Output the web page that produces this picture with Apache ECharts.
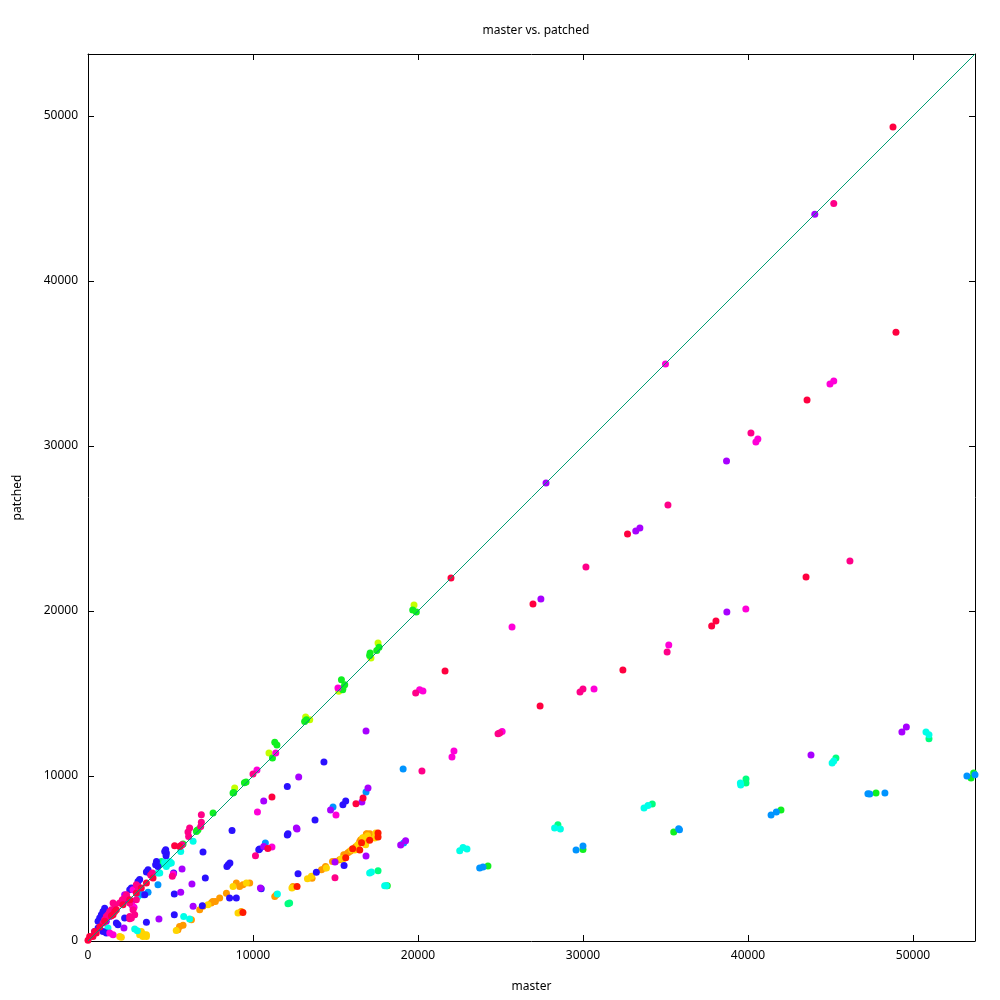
<!DOCTYPE html>
<html>
<head>
<meta charset="utf-8">
<script src="https://cdn.jsdelivr.net/npm/echarts@6/dist/echarts.min.js"></script>
<style>html,body{margin:0;padding:0;background:#fff}#c{width:1000px;height:1000px}</style>
</head>
<body>
<div id="c"></div>
<script>
const axisMax = 53760;
const tickValues = [0, 10000, 20000, 30000, 40000, 50000];
const diagonal = [[0, 0], [53760, 53760]];

const crimson = [[48790,49330],[48970,36900],[43580,32790],[32700,24670],[43520,22060],[22000,22000],[26970,20420],[21640,16360],[32420,16420],[27400,14240],[37800,19090],[38060,19390],[11150,8730],[16670,8670],[16240,8320],[10900,5600],[5250,5770],[5560,5730],[1520,1590],[1620,1790],[1720,1900],[0,40],[300,280],[500,480],[100,280],[400,580],[710,850],[1010,1190],[1420,1530],[2120,2200],[2530,2500],[2930,2910],[3230,3210],[3540,3510],[3940,3820]];
const pink = [[45200,44700],[40180,30790],[35150,26420],[30180,22670],[46180,23030],[35100,17520],[29820,15090],[30000,15270],[19860,15030],[20240,10300],[24850,12560],[24950,12610],[10000,10120],[10150,5170],[6870,7650],[6870,7190],[6830,6940],[6060,6600],[6100,6340],[6160,6850],[5700,5840],[5620,5770],[14970,3840],[2530,1490],[2830,1590],[2630,1390],[2930,2500],[2530,2300],[2730,1900],[2530,1350],[3900,4120],[3800,4000],[5110,3920],[2930,3410],[3030,3310],[2330,2810],[2220,2600],[2080,2500],[1920,2300],[1320,1790],[1420,1900],[1210,1590],[1110,1490],[1010,1290],[910,1090],[1520,2300],[1620,2200]];
const magenta = [[35000,34970],[45200,33940],[44970,33760],[40600,30420],[40480,30240],[25700,19030],[35200,17940],[30670,15270],[39870,20120],[15150,15330],[20100,15230],[20300,15150],[22180,11520],[22060,11150],[11380,11390],[25100,12700],[10240,10360],[10270,7820],[15030,7640],[11150,5700],[2790,2040],[2670,2160],[2730,3110],[5170,4060],[1520,380],[1320,480]];
const violet = [[44050,44050],[38700,29090],[27760,27760],[33200,24850],[33450,25030],[27450,20730],[38720,19940],[49600,12970],[49330,12670],[43820,11270],[16850,12730],[12770,9940],[10650,8480],[16970,9270],[16600,8420],[14700,7940],[12630,6850],[12670,6790],[10650,5730],[14970,4790],[16850,5150],[18950,5820],[19250,6080],[5700,4360],[6300,3450],[5620,2950],[4300,1330],[2180,790],[2220,2810],[2330,2700],[10450,3210],[1320,1490],[1110,1190],[6370,2100]];
const blue = [[14300,10850],[12080,9370],[15620,8480],[15450,8260],[13760,7330],[12080,6420],[12120,6500],[10400,5580],[10350,5530],[10500,3170],[12730,4080],[13840,4160],[15520,4580],[8730,6700],[6970,5390],[8500,4620],[8600,4730],[8420,4520],[5190,4120],[7110,3820],[5230,2850],[5230,1590],[1720,1090],[1820,990],[2420,2460],[2630,2400],[3440,2810],[2530,3110],[2630,3210],[2220,1390],[3540,1130],[1110,480],[910,580],[3640,4320],[3540,4180],[3740,4120],[4150,4820],[4240,4520],[4100,4620],[4730,5170],[4750,5330],[4650,5430],[4710,5530],[3030,3610],[3130,3720],[1010,1990],[910,1790],[810,1590],[710,1390],[610,1190],[400,580],[610,790],[8580,2600],[8990,2600],[6930,2140]];
const azure = [[19100,10420],[16850,9030],[14850,8120],[10750,5940],[19130,5940],[29580,5520],[30000,5760],[23740,4420],[23940,4480],[35850,6740],[35800,6800],[41400,7640],[41720,7820],[47270,8930],[47380,8910],[48300,8970],[53270,10000],[53760,10080],[4240,3410],[3330,2810],[3640,2950],[3130,2910]];
const cyan = [[11480,2850],[17070,4120],[17180,4180],[17980,3350],[18080,3350],[33700,8060],[33940,8220],[28280,6850],[28630,6790],[22530,5470],[22730,5670],[22970,5580],[39540,9580],[39560,9450],[45100,10790],[45200,10910],[50790,12670],[50970,12500],[6370,6040],[5620,5430],[5050,4730],[4240,4120],[4350,4120],[4910,4680],[4640,4760],[4950,4820],[4750,4520],[3030,2700],[2830,730],[2990,620],[5800,1490],[6160,1330],[1210,790]];
const mint = [[12120,2260],[12220,2300],[17580,4260],[34200,8300],[28480,7050],[39880,9820],[39880,9580],[45330,11090],[50970,12260],[4450,4820],[4350,4620]];
const green = [[19680,20060],[19900,19940],[17640,17800],[17500,17600],[17100,17450],[17070,17300],[15360,15840],[15560,15530],[15450,15330],[15440,15230],[13240,13410],[13130,13310],[11320,12040],[11450,11880],[11180,11090],[9480,9590],[9580,9640],[8830,9000],[8790,8970],[7580,7760],[6600,6700],[6670,6740],[6570,6640],[5760,5880],[18140,3350],[35500,6600],[30000,5550],[24240,4550],[42000,7940],[47760,8970],[53520,9880],[53680,10180]];
const lime = [[19760,20360],[17580,18060],[17150,17150],[15200,15130],[13190,13580],[13440,13410],[10970,11390],[8890,9270]];
const yellow = [[13300,3780],[13540,3920],[14450,4420],[15360,4990],[15450,4970],[15980,5530],[16350,5840],[16650,6260],[16950,6380],[16830,5840],[16170,5520],[17440,6550],[17380,6240],[12360,3210],[3230,580],[3330,420],[3540,380],[1920,280],[2020,220],[3130,380],[3330,280],[3540,280],[5350,640],[9090,1700],[7270,2200],[8790,3310],[9600,3510]];
const orange = [[12420,3310],[11320,2700],[11420,2800],[13580,3800],[14150,4320],[14400,4520],[14350,4420],[14820,4820],[15000,4820],[15250,4930],[15500,5230],[15620,5230],[15750,5350],[15860,5420],[15920,5470],[16220,5710],[16270,5640],[16470,5960],[16530,6140],[16470,6030],[16770,6070],[16830,6320],[16870,6480],[16830,6340],[16900,6500],[17080,6500],[5550,880],[5760,950],[6270,1290],[5450,680],[6770,1900],[6970,2100],[7470,2300],[7720,2400],[7560,2400],[7980,2600],[8390,2900],[8990,3510],[9190,3310],[9390,3410],[9800,3510],[9290,1790]];
const scarlet = [[12670,3310],[16580,5960],[17070,6100],[17580,6550],[17580,6300],[16470,5520],[16040,5590],[15620,5050],[9390,1730]];

const groups = [
  ['orange', orange, '#ff9a00'],
  ['yellow', yellow, '#ffd400'],
  ['scarlet', scarlet, '#ff1a00'],
  ['lime', lime, '#c4ff00'],
  ['green', green, '#10f020'],
  ['mint', mint, '#00ff80'],
  ['cyan', cyan, '#00ffe8'],
  ['azure', azure, '#0094ff'],
  ['blue', blue, '#2a10ff'],
  ['violet', violet, '#a800ff'],
  ['magenta', magenta, '#ff00d8'],
  ['pink', pink, '#ff0088'],
  ['crimson', crimson, '#ff0040']
];

const FONT = 'Noto Sans';
const chart = echarts.init(document.getElementById('c'), null, {renderer: 'canvas'});
const labelFmt = v => (v % 10000 === 0 ? String(v) : '');
const baseAxis = {
  type: 'value', min: 0, max: axisMax, interval: 10000,
  axisLine: {show: true, onZero: false, lineStyle: {color: '#000', width: 1}},
  axisTick: {show: true, inside: true, length: 6, lineStyle: {color: '#000'}},
  splitLine: {show: false},
  axisLabel: {color: '#000', fontSize: 12, fontFamily: FONT, formatter: labelFmt, showMaxLabel: false}
};
const series = groups.map(([name, data, color]) => ({
  name, type: 'scatter', data, symbol: 'circle', symbolSize: 7,
  itemStyle: {color, opacity: 1}, xAxisIndex: 0, yAxisIndex: 0, z: 2, silent: true, animation: false
}));
series.push({
  name: 'diag', type: 'line', data: diagonal, symbol: 'none', z: 5,
  lineStyle: {color: '#009e73', width: 1}, xAxisIndex: 0, yAxisIndex: 0, animation: false, silent: true
});
chart.setOption({
  animation: false,
  backgroundColor: '#fff',
  title: {text: 'master vs. patched', left: 531, top: 20, textAlign: 'center',
    textStyle: {fontFamily: FONT, fontSize: 12, fontWeight: 'normal', color: '#000'}},
  grid: {left: 88, top: 54, width: 887, height: 887},
  xAxis: [
    Object.assign({}, baseAxis, {position: 'bottom', name: 'master', nameLocation: 'middle', nameGap: 40,
      nameTextStyle: {fontFamily: FONT, fontSize: 12, color: '#000'},
      axisLabel: Object.assign({}, baseAxis.axisLabel, {margin: 9})}),
    Object.assign({}, baseAxis, {position: 'top', axisLabel: {show: false}})
  ],
  yAxis: [
    Object.assign({}, baseAxis, {position: 'left', name: 'patched', nameLocation: 'middle', nameGap: 64,
      nameTextStyle: {fontFamily: FONT, fontSize: 12, color: '#000'},
      axisLabel: Object.assign({}, baseAxis.axisLabel, {margin: 10})}),
    Object.assign({}, baseAxis, {position: 'right', axisLabel: {show: false}})
  ],
  series
});
</script>
</body>
</html>
